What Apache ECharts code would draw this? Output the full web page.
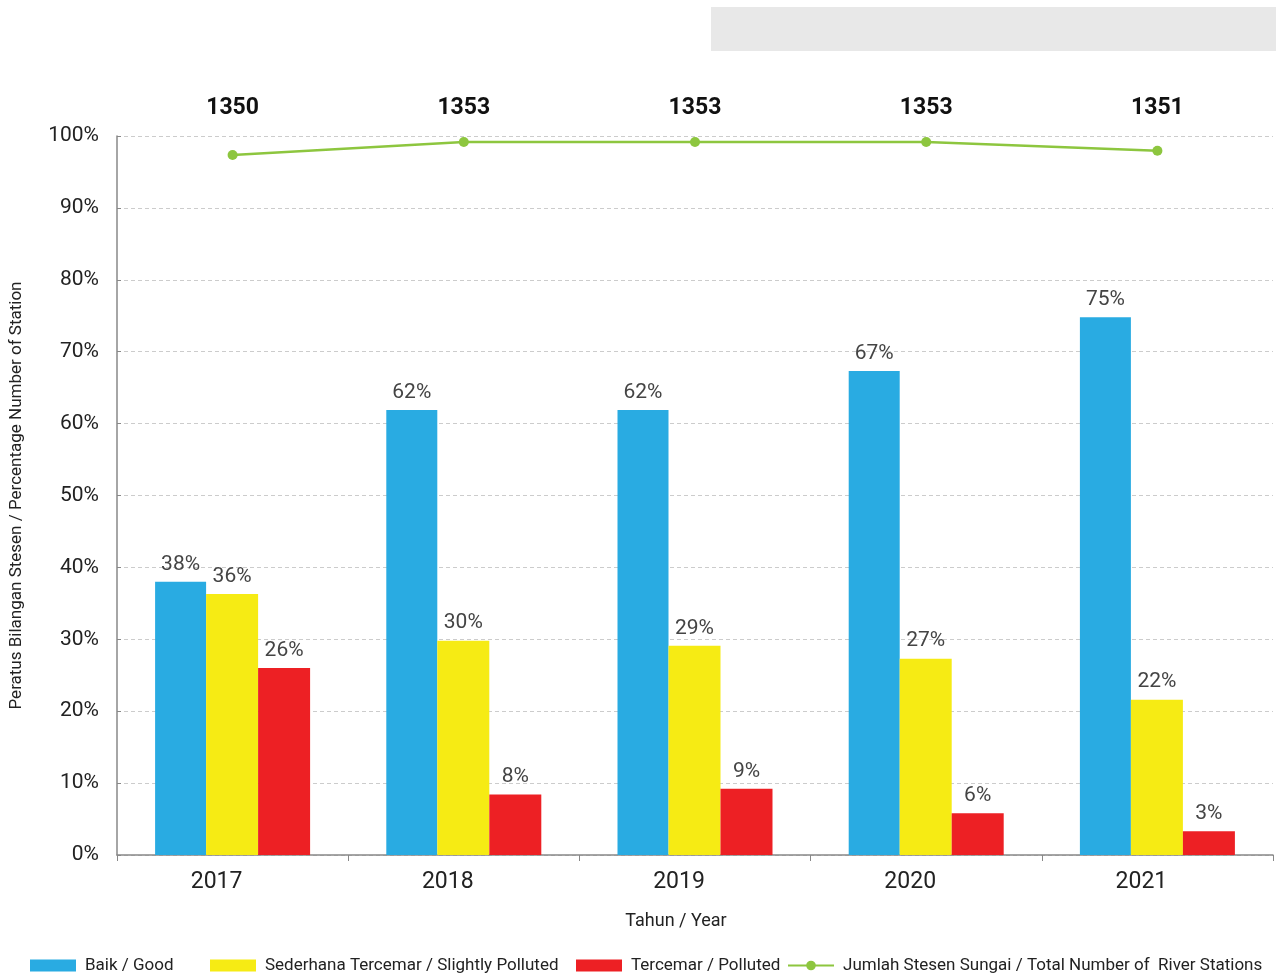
<!DOCTYPE html>
<html><head><meta charset="utf-8">
<script src="https://cdn.jsdelivr.net/npm/echarts@6/dist/echarts.min.js"></script>
<style>html,body{margin:0;padding:0;background:#fff}#c{width:1276px;height:979px}</style>
</head><body><div id="c"></div>
<script>
const years = ['2017','2018','2019','2020','2021'];
const good = [38.0, 61.9, 61.9, 67.3, 74.8];
const slightly = [36.3, 29.8, 29.1, 27.3, 21.6];
const polluted = [26.0, 8.4, 9.2, 5.8, 3.3];
const stations = [1350, 1353, 1353, 1353, 1351];
const yTicks = [0,10,20,30,40,50,60,70,80,90,100];
const seriesNames = ['Baik / Good','Sederhana Tercemar / Slightly Polluted','Tercemar / Polluted','Jumlah Stesen Sungai / Total Number of  River Stations'];

const FONT = 'Roboto';
const chart = echarts.init(document.getElementById('c'));
const barLabel = {show:true, position:'top', distance:7, color:'#444', fontSize:21, fontFamily:FONT,
  formatter: p => Math.round(p.value) + '%'};
const legendLefts = [30, 210, 576, 787];
const legends = seriesNames.map((n,i) => ({
  data:[i < 3 ? {name:n, icon:'rect'} : n], top:957, left:legendLefts[i], padding:0,
  itemWidth:46, itemHeight:12, itemGap:10,
  textStyle:{fontSize:17, color:'#222', fontFamily:FONT, padding:[0,0,0,4]}
}));
chart.setOption({
  animation:false,
  textStyle:{fontFamily:FONT},
  graphic:[{type:'rect', shape:{x:711,y:7,width:565,height:44}, style:{fill:'#e8e8e8'}}],
  grid:{left:117, right:3, top:136, bottom:124},
  legend:legends,
  xAxis:[{type:'category', data:years, position:'bottom',
    axisLine:{lineStyle:{color:'#888', width:1.5}},
    axisTick:{show:true, length:6, lineStyle:{color:'#888'}},
    axisLabel:{fontSize:23, color:'#222', margin:16, fontFamily:FONT, padding:[0,32,0,0]},
    name:'Tahun / Year', nameLocation:'middle', nameGap:57,
    nameTextStyle:{fontSize:18, color:'#222', fontFamily:FONT, padding:[0,38,0,0]}},
   {type:'category', data:stations.map(String), position:'top',
    axisLine:{show:false}, axisTick:{show:false},
    axisLabel:{fontSize:23, fontWeight:'bold', color:'#111', margin:16, fontFamily:FONT}}],
  yAxis:[{type:'value', min:yTicks[0], max:yTicks[yTicks.length-1], interval:10,
    axisLine:{show:true, lineStyle:{color:'#888', width:1.5}},
    axisTick:{show:true, inside:true, length:4, lineStyle:{color:'#888'}},
    splitLine:{lineStyle:{color:'#ccc', type:[4,3]}},
    axisLabel:{formatter:'{value}%', fontSize:21, color:'#222', margin:18, fontFamily:FONT},
    name:'Peratus Bilangan Stesen / Percentage Number of Station', nameLocation:'middle', nameGap:92,
    nameTextStyle:{fontSize:17, color:'#222', fontFamily:FONT}},
   {type:'value', min:1188.5, max:1354.4, show:false}],
  series:[
    {name:seriesNames[0], type:'bar', data:good, barWidth:51, barGap:'0%', itemStyle:{color:'#29abe2'}, label:barLabel},
    {name:seriesNames[1], type:'bar', data:slightly, barWidth:52, itemStyle:{color:'#f6eb14'}, label:barLabel},
    {name:seriesNames[2], type:'bar', data:polluted, barWidth:52, itemStyle:{color:'#ed2024'}, label:barLabel},
    {name:seriesNames[3], type:'line', yAxisIndex:1, data:stations,
     symbol:'circle', symbolSize:10, lineStyle:{color:'#8dc63f', width:2.5}, itemStyle:{color:'#8dc63f'}}
  ]
});
</script></body></html>
